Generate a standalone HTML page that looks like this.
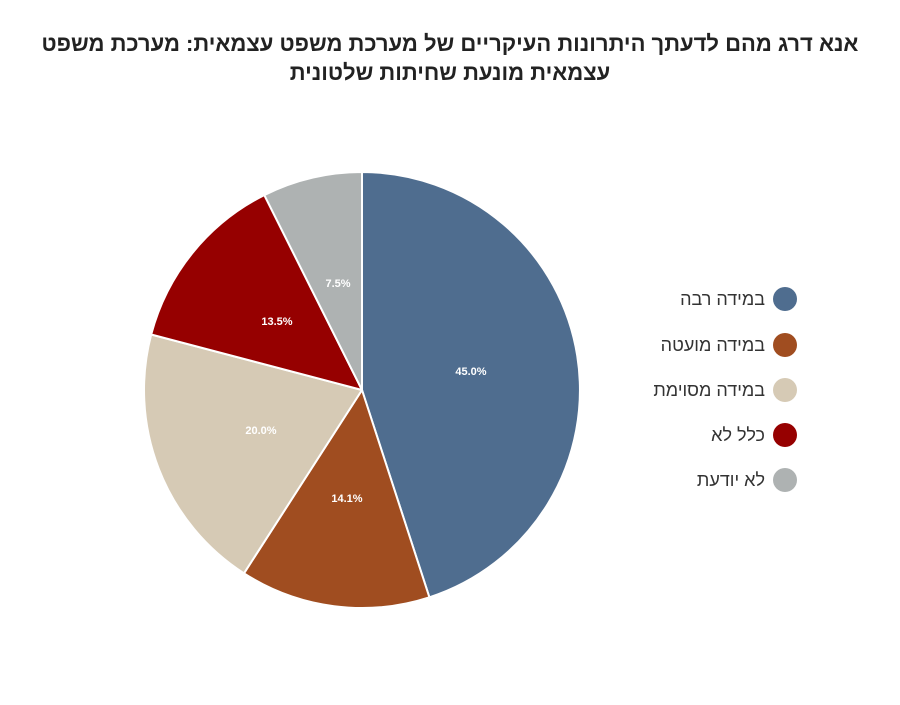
<!DOCTYPE html>
<html><head><meta charset="utf-8"><style>
html,body{margin:0;padding:0;background:#fff;}
body{width:900px;height:700px;overflow:hidden;}
</style></head><body>
<svg width="900" height="700" xmlns="http://www.w3.org/2000/svg" font-family="'Liberation Sans', 'Noto Sans CJK JP', sans-serif">
<text x="450" y="51" text-anchor="middle" direction="rtl" font-size="22" font-weight="bold" fill="#222">אנא דרג מהם לדעתך היתרונות העיקריים של מערכת משפט עצמאית: מערכת משפט</text>
<text x="450" y="80" text-anchor="middle" direction="rtl" font-size="22" font-weight="bold" fill="#222">עצמאית מונעת שחיתות שלטונית</text>
<g stroke="#fff" stroke-width="2" stroke-linejoin="round">
<path d="M362,390 L362,172 A218,218 0 0 1 429.4,597.3 Z" fill="#4f6d8f"/>
<path d="M362,390 L429.4,597.3 A218,218 0 0 1 244.0,573.3 Z" fill="#a04d20"/>
<path d="M362,390 L244.0,573.3 A218,218 0 0 1 151.2,334.5 Z" fill="#d6cab5"/>
<path d="M362,390 L151.2,334.5 A218,218 0 0 1 264.3,195.1 Z" fill="#960000"/>
<path d="M362,390 L264.3,195.1 A218,218 0 0 1 362,172 Z" fill="#aeb2b2"/>
</g>
<g font-size="11" font-weight="bold" fill="#fff" text-anchor="middle">
<text x="471" y="375">45.0%</text>
<text x="347" y="502">14.1%</text>
<text x="261" y="434">20.0%</text>
<text x="277" y="325">13.5%</text>
<text x="338" y="287">7.5%</text>
</g>
<g font-size="18" fill="#333" text-anchor="start" direction="rtl">
<circle cx="785" cy="299" r="12" fill="#4f6d8f"/><text x="765" y="305">במידה רבה</text>
<circle cx="785" cy="345" r="12" fill="#a04d20"/><text x="765" y="351">במידה מועטה</text>
<circle cx="785" cy="390" r="12" fill="#d6cab5"/><text x="765" y="396">במידה מסוימת</text>
<circle cx="785" cy="435" r="12" fill="#960000"/><text x="765" y="441">כלל לא</text>
<circle cx="785" cy="480" r="12" fill="#aeb2b2"/><text x="765" y="486">לא יודעת</text>
</g>
</svg>
</body></html>
